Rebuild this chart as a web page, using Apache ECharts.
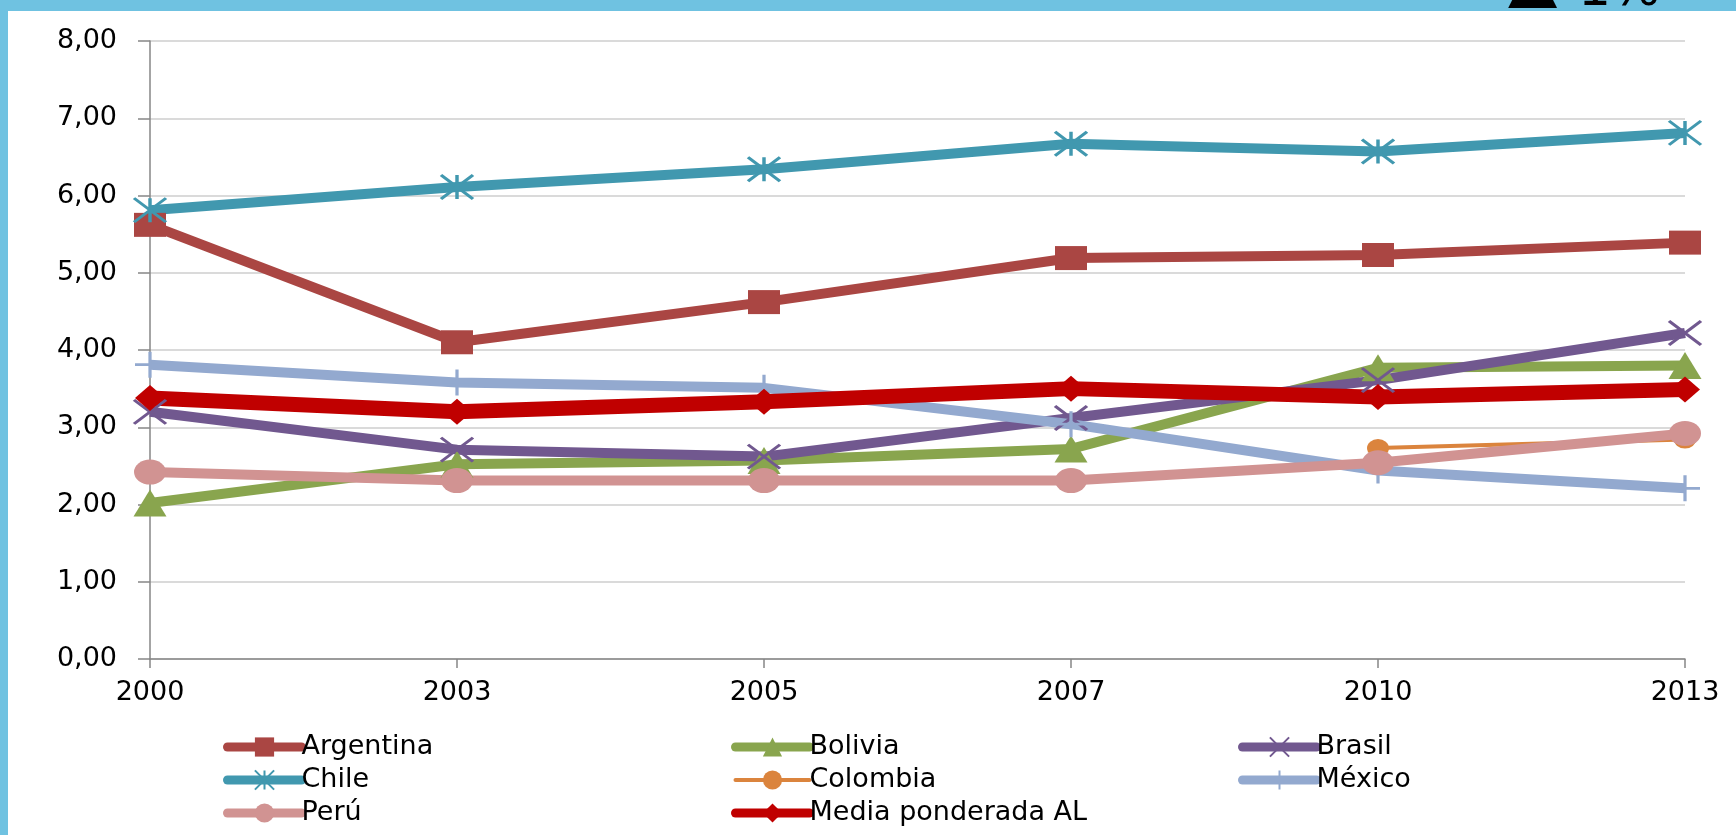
<!DOCTYPE html>
<html>
<head>
<meta charset="utf-8">
<script src="https://cdn.jsdelivr.net/npm/echarts@6/dist/echarts.min.js"></script>
<style>
html,body{margin:0;padding:0;background:#fff;}
#c{width:1736px;height:835px;}
</style>
</head>
<body>
<div id="c"></div>
<script>
const years = ['2000','2003','2005','2007','2010','2013'];
const argentina = [5.62, 4.10, 4.62, 5.19, 5.23, 5.39];
const bolivia   = [2.02, 2.52, 2.57, 2.72, 3.77, 3.80];
const brasil    = [3.20, 2.71, 2.62, 3.12, 3.61, 4.22];
const chile     = [5.81, 6.11, 6.34, 6.67, 6.57, 6.81];
const colombia  = [null, null, null, null, 2.73, 2.84];
const mexico    = [3.81, 3.58, 3.51, 3.04, 2.44, 2.21];
const peru      = [2.42, 2.31, 2.31, 2.31, 2.54, 2.92];
const media     = [3.38, 3.20, 3.33, 3.50, 3.39, 3.49];
const yMin = 0, yMax = 8, yStep = 1;
const badgeText = '1%';

const FONT = 'DejaVu Sans';
const chart = echarts.init(document.getElementById('c'), null, {renderer:'canvas'});

const widths = {};
function line(name, data, color, width, symbol, size, stroke) {
  widths[name] = {width, color};
  return {
    name, type:'line', data,
    symbol, symbolSize: size, symbolKeepAspect:false,
    showSymbol:true,
    lineStyle:{color, width},
    itemStyle: stroke ? {color:'rgba(0,0,0,0)', borderColor:color, borderWidth:3}
                      : {color, borderWidth:0},
    emphasis:{disabled:true},
    z: 2
  };
}
const ast = 'path://M0,0L32,24M32,0L0,24M16,0L16,24';
const cross = 'path://M0,0L32,24M32,0L0,24';
const plus = 'path://M0,13L32,13M16,0L16,26';

const series = [
  line('Argentina', argentina, '#AA4643', 10, 'rect', [32,24]),
  line('Bolivia', bolivia, '#89A54E', 10, 'triangle', [33,27]),
  line('Brasil', brasil, '#71588F', 10, cross, [32,24], true),
  line('Chile', chile, '#4198AF', 10, ast, [32,24], true),
  line('Colombia', colombia, '#DB843D', 4, 'circle', [22,18]),
  line('México', mexico, '#93A9CF', 10, plus, [30,26], true),
  line('Perú', peru, '#D19392', 10, 'circle', [32,25]),
  line('Media ponderada AL', media, '#C00000', 15, 'diamond', [30,26])
];

function legend(left, names) {
  return {
    orient:'vertical', left, top:733, itemGap:5, padding:0,
    itemWidth:74, itemHeight:24,
    data:names.map(n=>({name:n, lineStyle:{width:Math.min(widths[n].width,9), cap:'round', color:widths[n].color}})),
    textStyle:{fontFamily:FONT, fontSize:27, color:'#000', lineHeight:28, padding:[0,0,0,-5]},
    selectedMode:false
  };
}

chart.setOption({
  animation:false,
  backgroundColor:'#fff',
  grid:{left:150, right:51, top:41, bottom:176, containLabel:false},
  xAxis:{
    type:'category', data:years, boundaryGap:false,
    axisLine:{lineStyle:{color:'#868686', width:1.5}},
    axisTick:{show:true, length:9, lineStyle:{color:'#868686', width:1.5}},
    axisLabel:{fontFamily:FONT, fontSize:27, color:'#000', margin:20},
    splitLine:{show:false}
  },
  yAxis:{
    type:'value', min:yMin, max:yMax, interval:yStep,
    axisLine:{show:true, lineStyle:{color:'#868686', width:1.5}},
    axisTick:{show:true, length:12, lineStyle:{color:'#868686', width:1.5}},
    axisLabel:{fontFamily:FONT, fontSize:27, color:'#000', margin:33,
      formatter:v=>v.toFixed(2).replace('.',',')},
    splitLine:{lineStyle:{color:'#DADADA', width:2}}
  },
  legend:[
    legend(223, ['Argentina','Chile','Perú']),
    legend(731, ['Bolivia','Colombia','Media ponderada AL']),
    legend(1238, ['Brasil','México'])
  ],
  graphic:[
    {type:'rect', left:0, top:0, shape:{width:1736, height:11}, style:{fill:'#6FC2E1'}, z:-1, silent:true},
    {type:'rect', left:0, top:0, shape:{width:8, height:835}, style:{fill:'#6FC2E1'}, z:-1, silent:true},
    {type:'text', x:1508, y:15, style:{text:'▲', font:'64px "DejaVu Sans"', fill:'#000', textVerticalAlign:'bottom'}, z:10, silent:true},
    {type:'text', x:1578, y:17, style:{text:badgeText, font:'52px "DejaVu Sans"', fill:'#000', textVerticalAlign:'bottom'}, z:10, silent:true}
  ],
  series
});
</script>
</body>
</html>
